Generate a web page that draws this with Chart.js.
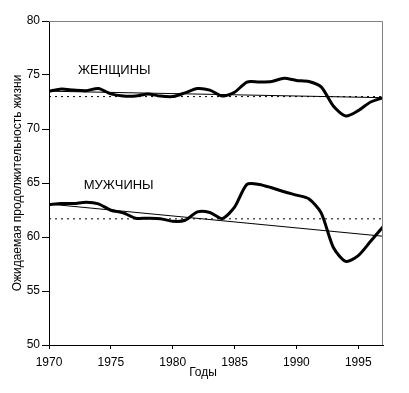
<!DOCTYPE html>
<html>
<head>
<meta charset="utf-8">
<script src="https://cdn.jsdelivr.net/npm/chart.js@4"></script>
<style>
  html, body { margin: 0; padding: 0; background: #fff; }
  #wrap { width: 409px; height: 393px; }
</style>
</head>
<body>
<div id="wrap"><canvas id="chart" width="409" height="393"></canvas></div>
<script>
// годы
const years = [1970, 1971, 1972, 1973, 1974, 1975, 1976, 1977, 1978, 1979,
    1980, 1981, 1982, 1983, 1984, 1985, 1986, 1987, 1988, 1989,
    1990, 1991, 1992, 1993, 1994, 1995, 1996, 1997];

// женщины
const women = [73.5, 73.7, 73.6, 73.55, 73.75, 73.25, 73.05, 73.05, 73.25, 73.05,
    73.0, 73.35, 73.75, 73.6, 73.05, 73.4, 74.35, 74.35, 74.4, 74.7,
    74.5, 74.4, 73.9, 72.1, 71.2, 71.7, 72.5, 72.9];

// мужчины
const men = [63.0, 63.1, 63.1, 63.22, 63.07, 62.48, 62.24, 61.74, 61.74, 61.7,
    61.46, 61.55, 62.33, 62.27, 61.7, 62.76, 64.87, 64.87, 64.56, 64.19,
    63.88, 63.54, 62.24, 59.0, 57.74, 58.27, 59.6, 60.94];

// тренды и уровни (начало, конец)
const trendYears = [1970, 1997];
const womenTrend = [73.5, 72.9];
const menTrend = [63.05, 60.07];
const womenLevel = [73.0, 73.0];
const menLevel = [61.68, 61.68];

// подписи оси X
const xTicks = [1970, 1975, 1980, 1985, 1990, 1995];

// подписи серий
const seriesLabels = ["ЖЕНЩИНЫ", "МУЖЧИНЫ"];
const labelAt = [[1972.35, 75.4], [1972.8, 64.8]];

const FONT = "'Liberation Sans', Arial, sans-serif";

function pts(xs, ys) {
    return xs.map((x, i) => ({ x: x, y: ys[i] }));
}

// рамка, подписи серий, подпись оси X
const extras = {
    id: 'extras',
    afterDraw(chart) {
        const c = chart.ctx;
        const a = chart.chartArea;
        const xs = chart.scales.x, ys = chart.scales.y;
        c.save();
        c.strokeStyle = '#808080';
        c.lineWidth = 1;
        c.beginPath();
        c.moveTo(a.left, a.top + 0.5);
        c.lineTo(a.right - 0.5, a.top + 0.5);
        c.lineTo(a.right - 0.5, a.bottom);
        c.stroke();

        c.fillStyle = '#000';
        c.font = '13px ' + FONT;
        c.textAlign = 'left';
        c.textBaseline = 'middle';
        seriesLabels.forEach((t, i) => {
            c.fillText(t, xs.getPixelForValue(labelAt[i][0]), ys.getPixelForValue(labelAt[i][1]));
        });

        c.font = '12px ' + FONT;
        c.textAlign = 'center';
        c.fillText('Годы', a.left + 154, a.bottom + 28);
        c.restore();
    }
};

const ctx = document.getElementById('chart').getContext('2d');

new Chart(ctx, {
    type: 'line',
    data: {
        datasets: [
            { data: pts(years, women), borderColor: '#000', borderWidth: 3, pointRadius: 0, tension: 0.25 },
            { data: pts(years, men), borderColor: '#000', borderWidth: 3, pointRadius: 0, tension: 0.25 },
            { data: pts(trendYears, womenTrend), borderColor: '#000', borderWidth: 1, pointRadius: 0 },
            { data: pts(trendYears, menTrend), borderColor: '#000', borderWidth: 1, pointRadius: 0 },
            { data: pts(trendYears, womenLevel), borderColor: '#000', borderWidth: 1, borderDash: [2, 4], pointRadius: 0 },
            { data: pts(trendYears, menLevel), borderColor: '#000', borderWidth: 1, borderDash: [2, 4], pointRadius: 0 }
        ]
    },
    options: {
        responsive: false,
        animation: false,
        layout: { padding: { top: 21, right: 26, bottom: 0, left: 0 } },
        plugins: { legend: { display: false }, tooltip: { enabled: false } },
        scales: {
            x: {
                type: 'linear',
                min: 1970,
                max: 1997,
                afterFit: (s) => { s.height = 48; },
                afterBuildTicks: (s) => { s.ticks = xTicks.map(v => ({ value: v })); },
                ticks: {
                    color: '#000',
                    padding: 6,
                    maxRotation: 0,
                    font: { family: FONT, size: 12 },
                    callback: (v) => String(v)
                },
                grid: { drawOnChartArea: false, drawTicks: true, tickLength: 4, color: '#000' },
                border: { color: '#000', width: 1 }
            },
            y: {
                min: 50,
                max: 80,
                afterFit: (s) => { s.width = 49; },
                ticks: {
                    stepSize: 5,
                    color: '#000',
                    padding: 2,
                    font: { family: FONT, size: 12 }
                },
                grid: { drawOnChartArea: false, drawTicks: true, tickLength: 7, color: '#000' },
                border: { color: '#000', width: 1 },
                title: {
                    display: true,
                    text: 'Ожидаемая продолжительность жизни',
                    color: '#000',
                    font: { family: FONT, size: 12 },
                    padding: { top: 10, bottom: 0 }
                }
            }
        }
    },
    plugins: [extras]
});
</script>
</body>
</html>
